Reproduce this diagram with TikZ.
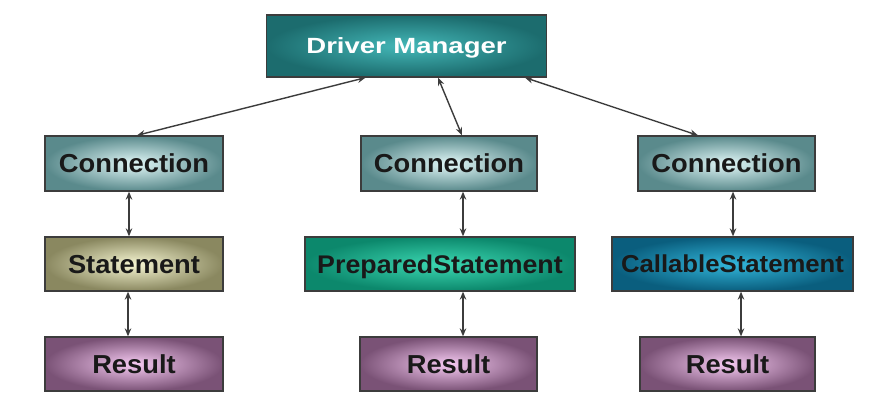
\documentclass[tikz,border=0pt]{standalone}
\usepackage{fontspec}
\setmainfont{Liberation Sans}[FakeStretch=1.05]
\newfontfamily\dmfont{Liberation Sans}[FakeStretch=1.25]
\usetikzlibrary{arrows.meta}
\definecolor{dmout}{HTML}{1C6C6E}
\definecolor{dmin}{HTML}{44B8B8}
\definecolor{cnout}{HTML}{5A8A8C}
\definecolor{cnin}{HTML}{E2F8F8}
\definecolor{stout}{HTML}{8A8860}
\definecolor{stin}{HTML}{F6F6D2}
\definecolor{psout}{HTML}{0C886C}
\definecolor{psin}{HTML}{3CD8B2}
\definecolor{csout}{HTML}{0A5E7E}
\definecolor{csin}{HTML}{32B6DA}
\definecolor{rsout}{HTML}{7A5276}
\definecolor{rsin}{HTML}{F6CAF2}
\definecolor{edge}{HTML}{3C3C3C}
\tikzset{
  box/.style={draw=edge, line width=1.3pt, rectangle, inner sep=0pt,
    minimum height=54pt, text height=18.6pt, text depth=0pt,
    font=\fontsize{26}{28}\selectfont\bfseries, text=black!90},
  dmbox/.style={box, inner color=dmin, outer color=dmout, text=white, minimum height=62pt,
    text height=15.8pt, font=\dmfont\fontsize{22}{24}\selectfont\bfseries},
  cnbox/.style={box, inner color=cnin, outer color=cnout, minimum height=55pt},
  stbox/.style={box, inner color=stin, outer color=stout},
  psbox/.style={box, inner color=psin, outer color=psout},
  csbox/.style={box, inner color=csin, outer color=csout},
  rsbox/.style={box, inner color=rsin, outer color=rsout},
  link/.style={draw=edge, line width=1.4pt, {Stealth[length=8pt,width=6.5pt]}-{Stealth[length=8pt,width=6.5pt]}}
}
\begin{document}
\begin{tikzpicture}[x=1pt,y=-1pt]
\useasboundingbox[fill=white] (0,0) rectangle (874,404);
\node[dmbox, minimum width=280pt] (dm) at (406.5,46) {Driver Manager};
\node[cnbox, minimum width=178pt] (c1) at (134,163.5) {Connection};
\node[cnbox, minimum width=176pt] (c2) at (449,163.5) {Connection};
\node[cnbox, minimum width=177pt] (c3) at (726.5,163.5) {Connection};
\node[stbox, minimum width=178pt] (s1) at (134,264) {Statement};
\node[psbox, minimum width=270pt, text height=18.3pt, font=\fontsize{25.5}{28}\selectfont\bfseries] (ps) at (440,264) {PreparedStatement};
\node[csbox, minimum width=241pt, text height=17.5pt, font=\fontsize{24.5}{27}\selectfont\bfseries] (cs) at (732.5,264) {CallableStatement};
\node[rsbox, minimum width=178pt] (r1) at (134,364) {Result};
\node[rsbox, minimum width=177pt] (r2) at (448.5,364) {Result};
\node[rsbox, minimum width=175pt] (r3) at (727.5,364) {Result};
\draw[link] ([xshift=-41pt]dm.south) -- ([xshift=3pt]c1.north);
\draw[link] ([xshift=31.5pt]dm.south) -- ([xshift=13pt]c2.north);
\draw[link] ([xshift=118.5pt]dm.south) -- ([xshift=-28.5pt]c3.north);
\draw[link] ([xshift=-5pt]c1.south) -- ([xshift=-5pt]s1.north);
\draw[link] ([xshift=-6pt]s1.south) -- ([xshift=-6pt]r1.north);
\draw[link] ([xshift=14pt]c2.south) -- ([xshift=23pt]ps.north);
\draw[link] ([xshift=23pt]ps.south) -- ([xshift=14.5pt]r2.north);
\draw[link] ([xshift=6.5pt]c3.south) -- ([xshift=0.5pt]cs.north);
\draw[link] ([xshift=8.5pt]cs.south) -- ([xshift=13.5pt]r3.north);
\end{tikzpicture}
\end{document}
